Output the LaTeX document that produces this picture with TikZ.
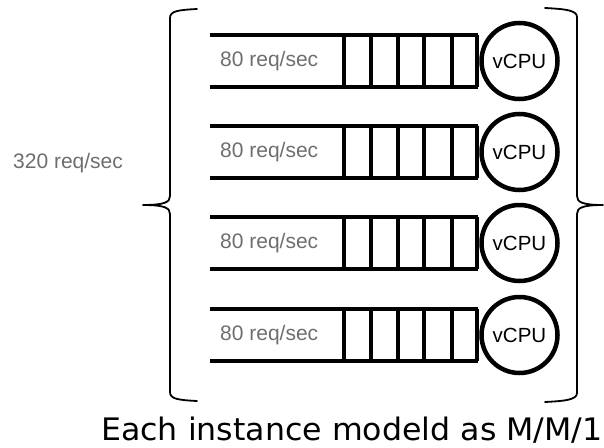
\documentclass[tikz,border=0pt]{standalone}
\usepackage{fontspec}
\setmainfont{Liberation Sans}
\newfontfamily\capfont{DejaVu Sans}
\definecolor{lbl}{HTML}{6E6E6E}
\begin{document}
\begin{tikzpicture}[x=1pt,y=-1pt,
  qline/.style={line width=4.5pt},
  qcell/.style={line width=3.2pt},
  cpu/.style={circle, draw, line width=4.5pt, minimum size=76pt, inner sep=0pt, font=\fontsize{20.5}{24}\selectfont},
  rate/.style={anchor=west, text=lbl, inner sep=0pt, font=\fontsize{21}{25}\selectfont},
  brace/.style={line width=1.8pt, line join=round, line cap=round}]
\useasboundingbox (0,0) rectangle (604,447);
\foreach \i/\yc in {1/61,2/152,3/243,4/335}{
  \draw[qline] (210,\yc-26) -- (478,\yc-26);
  \draw[qline] (210,\yc+26) -- (478,\yc+26);
  \foreach \xx in {344,371,398,424,452,477}{
    \draw[qcell] (\xx,\yc-26) -- (\xx,\yc+26);
  }
  \node[rate] (r\i) at (220,\yc) {80 req/sec};
  \node[cpu] (c\i) at (519.5,\yc) {vCPU};
}
\node[rate] (total) at (13,163) {320 req/sec};
% left brace
\draw[brace] (197,9) .. controls (178,10) and (170,11) .. (170,18) -- (170,196)
  .. controls (170,202) and (165,205) .. (143,205)
  .. controls (165,205) and (170,208) .. (170,214) -- (170,392)
  .. controls (170,399) and (178,400) .. (197,401);
% right brace
\draw[brace] (545,8) .. controls (564,9) and (577,10) .. (577,17) -- (577,196)
  .. controls (577,202) and (582,205) .. (603,205)
  .. controls (582,205) and (577,208) .. (577,214) -- (577,393)
  .. controls (577,400) and (564,401) .. (545,402);
\node[anchor=base west, inner sep=0pt, font=\capfont\fontsize{31}{36}\selectfont] (cap) at (101,440) {\scalebox{1.02}[1]{Each instance modeld as M/M/1}};
\end{tikzpicture}
\end{document}
